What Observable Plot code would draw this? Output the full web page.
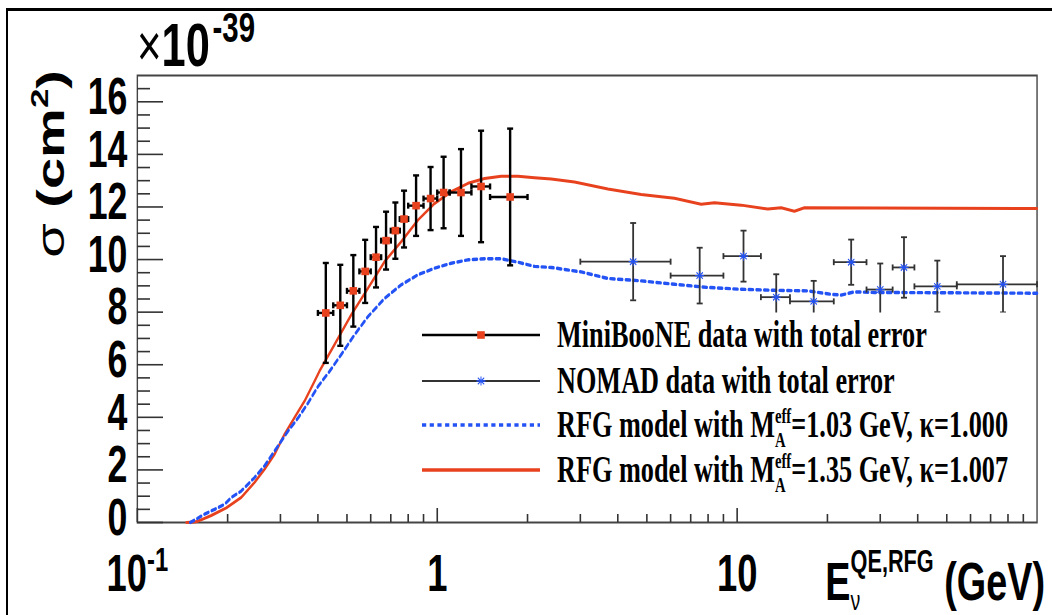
<!DOCTYPE html>
<html><head><meta charset="utf-8">
<script src="https://cdn.jsdelivr.net/npm/d3@7"></script>
<script src="https://cdn.jsdelivr.net/npm/@observablehq/plot@0.6"></script>
<style>
html,body{margin:0;padding:0;background:#fff;}
#wrap{position:relative;width:1052px;height:615px;overflow:hidden;background:#fff;}
#chart{position:absolute;left:0;top:0;}
#border{position:absolute;left:6px;top:7.5px;width:1100px;height:700px;border-top:3px solid #000;border-left:2.5px solid #000;pointer-events:none;}
</style></head><body>
<div id="wrap"><div id="chart"></div><div id="border"></div></div>
<script>
// ---------------- data ----------------
// MiniBooNE (bin edges in GeV, cross section in 1e-39 cm^2, total error)
const mbLo  = [0.40,0.45,0.50,0.55,0.60,0.65,0.70,0.75,0.80,0.90,1.00,1.10,1.30,1.50];
const mbHi  = [0.45,0.50,0.55,0.60,0.65,0.70,0.75,0.80,0.90,1.00,1.10,1.30,1.50,2.00];
const mbY   = [7.97,8.26,8.81,9.55,10.09,10.72,11.10,11.54,12.05,12.32,12.55,12.55,12.78,12.38];
const mbErr = [1.90,1.54,1.36,1.20,1.15,1.10,1.07,1.08,1.15,1.20,1.36,1.65,2.12,2.60];
// NOMAD
const noLo  = [3,6,9,12,15,21,27,33,39,54];
const noHi  = [6,9,12,15,21,27,33,39,54,100];
const noY   = [9.92,9.39,10.13,8.57,8.41,9.90,8.86,9.70,8.98,9.06];
const noErr = [1.47,1.06,0.97,0.87,0.78,0.86,0.99,1.15,0.98,1.07];
// RFG model, M_A^eff = 1.35 GeV, kappa = 1.007 (red)
const redE = [0.1457,0.155,0.1594,0.1764,0.198,0.2222,0.246,0.2657,0.287,0.3097,0.3344,0.3611,0.39,0.405,0.4546,0.5168,0.5875,0.667,0.7586,0.862,0.979,1.113,1.266,1.438,1.634,1.858,2.11,2.399,2.869,3.707,4.786,6.18,7.586,8.4,10.31,12.66,14.02,15.52,16.76,100];
const redS = [0,0.02,0.05,0.265,0.557,0.958,1.527,2.03,2.6,3.36,3.99,4.62,5.38,5.76,6.77,7.90,8.91,9.92,10.68,11.5,12.13,12.58,12.9,13.08,13.17,13.17,13.11,13.06,12.95,12.68,12.47,12.33,12.1,12.16,12.07,11.92,11.97,11.84,11.97,11.94];
// RFG model, M_A^eff = 1.03 GeV, kappa = 1.000 (blue dashed)
const blueE = [0.150,0.1573,0.1676,0.181,0.1954,0.2057,0.2222,0.246,0.2657,0.2944,0.3177,0.3433,0.3707,0.4002,0.4375,0.4786,0.5299,0.5875,0.667,0.7586,0.862,0.979,1.113,1.266,1.438,1.634,1.858,2.11,2.399,3.02,3.707,4.786,6.18,7.985,10.31,13.31,17.2,20.57,22.22,24.6,28.69,100];
const blueS = [0,0.13,0.32,0.5,0.69,0.95,1.2,1.71,2.16,2.91,3.47,3.97,4.54,5.17,5.75,6.39,7.14,7.83,8.52,9.04,9.42,9.67,9.86,9.99,10.03,10.03,9.90,9.74,9.70,9.53,9.28,9.19,9.06,8.94,8.87,8.83,8.81,8.68,8.65,8.77,8.75,8.72];
// axes
const xMajor = [0.1, 1, 10];
const xMinor = [0.2,0.3,0.4,0.5,0.6,0.7,0.8,0.9,2,3,4,5,6,7,8,9,20,30,40,50,60,70,80,90];
const yMajor = [0,2,4,6,8,10,12,14,16];
const yMinor = [0.5,1,1.5,2.5,3,3.5,4.5,5,5.5,6.5,7,7.5,8.5,9,9.5,10.5,11,11.5,12.5,13,13.5,14.5,15,15.5,16.5];
const legendLabels = ["MiniBooNE data with total error","NOMAD data with total error","RFG model with M","RFG model with M"];
const legendTails = ["", "", "=1.03 GeV, \u03ba=1.000", "=1.35 GeV, \u03ba=1.007"];

// ---------------- tables ----------------
const mb = mbLo.map((lo,i)=>({lo, hi: mbHi[i], x: (lo+mbHi[i])/2, y: mbY[i], e: mbErr[i]}));
const nomad = noLo.map((lo,i)=>({lo, hi: noHi[i], x: (lo+noHi[i])/2, y: noY[i], e: noErr[i]}));
const red = redE.map((x,i)=>({x, y: redS[i]}));
const blue = blueE.map((x,i)=>({x, y: blueS[i]}));

// ---------------- layout (drawn in a wide space, shown squeezed horizontally) ----------------
const S = 0.7;
const W = 1052 / S, H = 615;
const mL = 137 / S, mR = (1052 - 1036.7) / S, mT = 75, mB = 93;
const plotW = W - mL - mR, plotH = H - mT - mB;
const SANS = "'Liberation Sans', Arial, Helvetica, sans-serif";
const SERIF = "'Liberation Serif', 'Times New Roman', serif";
const RED = "#e8411e", BLUE = "#2453f5";

const capH = {draw(c){ c.moveTo(-3/S,0); c.lineTo(3/S,0); }};
const capV = {draw(c){ c.moveTo(0,-3); c.lineTo(0,3); }};
const square = {draw(c){ c.rect(-3.8/S,-3.8,7.6/S,7.6); }};
const star = {draw(c){
  const a = 4.5, d = 3.2;
  c.moveTo(0,-a); c.lineTo(0,a);
  c.moveTo(-a/S,0); c.lineTo(a/S,0);
  c.moveTo(-d/S,-d); c.lineTo(d/S,d);
  c.moveTo(-d/S,d); c.lineTo(d/S,-d);
}};

const chart = Plot.plot({
  width: W, height: H,
  marginLeft: mL, marginRight: mR, marginTop: mT, marginBottom: mB,
  style: {fontFamily: SANS, background: "transparent"},
  x: {type: "log", domain: [0.1, 100]},
  y: {domain: [0, 17]},
  marks: [
    Plot.frame({stroke: "#444", strokeWidth: 2}),
    // inward ticks
    Plot.tickY(yMajor, {y: d=>d, insetRight: plotW - 26/S, stroke: "#333", strokeWidth: 1.6}),
    Plot.tickY(yMinor, {y: d=>d, insetRight: plotW - 13/S, stroke: "#333", strokeWidth: 1.6}),
    Plot.tickX(xMajor, {x: d=>d, insetTop: plotH - 14, stroke: "#333", strokeWidth: 1.6/S}),
    Plot.tickX(xMinor, {x: d=>d, insetTop: plotH - 8, stroke: "#333", strokeWidth: 1.6/S}),
    // tick labels
    Plot.axisY(yMajor, {tickSize: 0, tickPadding: 10/S, stroke: "none", fill: "#000", dy: -4,
      fontSize: 51, fontWeight: "bold", fontFamily: SANS, label: null}),
    Plot.axisX(xMajor, {tickSize: 0, tickPadding: 32, stroke: "none", fill: "#000",
      fontSize: 52, fontWeight: "bold", fontFamily: SANS, label: null,
      tickFormat: d => d < 1 ? "10-1" : String(d)}),
    // model curves
    Plot.line(red, {x: "x", y: "y", stroke: RED, strokeWidth: 3}),
    Plot.line(blue, {x: "x", y: "y", stroke: BLUE, strokeWidth: 3.4, strokeDasharray: "6,5"}),
    // MiniBooNE data
    Plot.ruleX(mb, {x: "x", y1: d=>d.y-d.e, y2: d=>d.y+d.e, stroke: "#000", strokeWidth: 2.4/S}),
    Plot.ruleY(mb, {y: "y", x1: "lo", x2: "hi", stroke: "#000", strokeWidth: 2.4}),
    Plot.dot(mb, {x: "x", y: d=>d.y+d.e, symbol: capH, stroke: "#000", fill: "none", strokeWidth: 2.4}),
    Plot.dot(mb, {x: "x", y: d=>d.y-d.e, symbol: capH, stroke: "#000", fill: "none", strokeWidth: 2.4}),
    Plot.dot(mb, {x: "lo", y: "y", symbol: capV, stroke: "#000", fill: "none", strokeWidth: 2.4/S}),
    Plot.dot(mb, {x: "hi", y: "y", symbol: capV, stroke: "#000", fill: "none", strokeWidth: 2.4/S}),
    Plot.dot(mb, {x: "x", y: "y", symbol: square, fill: RED, stroke: "none"}),
    // NOMAD data
    Plot.ruleX(nomad, {x: "x", y1: d=>d.y-d.e, y2: d=>d.y+d.e, stroke: "#333", strokeWidth: 1.8/S}),
    Plot.ruleY(nomad, {y: "y", x1: "lo", x2: "hi", stroke: "#333", strokeWidth: 1.8}),
    Plot.dot(nomad, {x: "x", y: d=>d.y+d.e, symbol: capH, stroke: "#333", fill: "none", strokeWidth: 1.8}),
    Plot.dot(nomad, {x: "x", y: d=>d.y-d.e, symbol: capH, stroke: "#333", fill: "none", strokeWidth: 1.8}),
    Plot.dot(nomad, {x: "lo", y: "y", symbol: capV, stroke: "#333", fill: "none", strokeWidth: 1.8/S}),
    Plot.dot(nomad, {x: "hi", y: "y", symbol: capV, stroke: "#333", fill: "none", strokeWidth: 1.8/S}),
    Plot.dot(nomad, {x: "x", y: "y", symbol: star, stroke: BLUE, fill: "none", strokeWidth: 1.3})
  ]
});

chart.setAttribute("width", 1052);
chart.setAttribute("height", 615);
chart.setAttribute("viewBox", `0 0 ${W} ${H}`);
chart.setAttribute("preserveAspectRatio", "none");
chart.style.width = "1052px";
chart.style.height = "615px";
chart.style.maxWidth = "none";
document.getElementById("chart").appendChild(chart);

const svg = d3.select(chart);

// 10^-1 tick label
svg.selectAll("text").each(function(){
  if (this.textContent === "10-1") {
    this.textContent = "10";
    d3.select(this).append("tspan").attr("dy", -20).attr("font-size", 34).text("-1");
  }
});

// ×10^-39 exponent
const ex = svg.append("text").attr("x", 137/S).attr("y", 66).attr("text-anchor", "start")
  .attr("font-family", SANS).attr("fill", "#000");
ex.append("tspan").attr("font-size", 60).attr("font-weight", "normal").text("\u00d7");
ex.append("tspan").attr("font-size", 62).attr("font-weight", "bold").text("10");
ex.append("tspan").attr("font-size", 42).attr("font-weight", "bold").attr("dx", 4).attr("dy", -24).text("-39");

// y title
const yt = svg.append("text").attr("transform", `translate(${64/S},70) rotate(-90)`)
  .attr("text-anchor", "end").attr("font-family", SANS).attr("font-size", 56).attr("fill", "#000");
yt.append("tspan").attr("font-weight", "normal").text("\u03c3");
yt.append("tspan").attr("font-weight", "bold").text(" (cm");
yt.append("tspan").attr("font-weight", "bold").attr("font-size", 35).attr("dy", -23).text("2");
yt.append("tspan").attr("font-weight", "bold").attr("dy", 23).text(")");

// x title
const xt = svg.append("text").attr("x", 1045/S).attr("y", 600).attr("text-anchor", "end")
  .attr("font-family", SANS).attr("font-weight", "bold").attr("font-size", 54).attr("fill", "#000");
xt.append("tspan").text("E");
const nu = xt.append("tspan").attr("font-size", 28).attr("font-weight", "normal").attr("dy", 10).text("\u03bd");
const nuW = nu.node().getComputedTextLength();
xt.append("tspan").attr("font-size", 31).attr("dx", -nuW).attr("dy", -38).text("QE,RFG");
xt.append("tspan").attr("dy", 28).text(" (GeV)");

// legend
const lg = svg.append("g").attr("text-anchor", "start");
lg.append("rect").attr("x", 410/S).attr("y", 312.5).attr("width", (1033-410)/S).attr("height", 190).attr("fill", "#fff");
const lx1 = 422/S, lx2 = 540/S, lmx = 481/S, ltx = 557/S;
const rowLine = [335, 381, 425, 470];
const rowBase = [347, 393, 437, 482];
// swatches
lg.append("line").attr("x1", lx1).attr("x2", lx2).attr("y1", rowLine[0]).attr("y2", rowLine[0]).attr("stroke", "#000").attr("stroke-width", 2.6);
lg.append("rect").attr("x", lmx-3.8/S).attr("y", rowLine[0]-3.8).attr("width", 7.6/S).attr("height", 7.6).attr("fill", RED);
lg.append("line").attr("x1", lx1).attr("x2", lx2).attr("y1", rowLine[1]).attr("y2", rowLine[1]).attr("stroke", "#333").attr("stroke-width", 1.9);
lg.append("path").attr("transform", `translate(${lmx},${rowLine[1]})`).attr("d", (()=>{const p=d3.path(); star.draw(p); return p.toString();})()).attr("stroke", BLUE).attr("stroke-width", 1.4).attr("fill", "none");
lg.append("line").attr("x1", lx1).attr("x2", lx2).attr("y1", rowLine[2]).attr("y2", rowLine[2]).attr("stroke", BLUE).attr("stroke-width", 3.4).attr("stroke-dasharray", "6,5");
lg.append("line").attr("x1", lx1).attr("x2", lx2).attr("y1", rowLine[3]).attr("y2", rowLine[3]).attr("stroke", RED).attr("stroke-width", 3.4);
// labels
legendLabels.forEach((lab, i) => {
  const t = lg.append("text").attr("x", ltx).attr("y", rowBase[i]).attr("text-anchor", "start")
    .attr("font-family", SERIF).attr("font-weight", "bold").attr("font-size", 37.5).attr("fill", "#000");
  t.append("tspan").text(lab);
  if (legendTails[i]) {
    const e = t.append("tspan").attr("font-size", 21).attr("dy", -14).text("eff");
    const ew = e.node().getComputedTextLength();
    const a = t.append("tspan").attr("font-size", 21).attr("dx", -ew).attr("dy", 24).text("A");
    const aw = a.node().getComputedTextLength();
    t.append("tspan").attr("dx", Math.max(0, ew - aw)).attr("dy", -10).text(legendTails[i]);
  }
});
</script>
</body></html>
